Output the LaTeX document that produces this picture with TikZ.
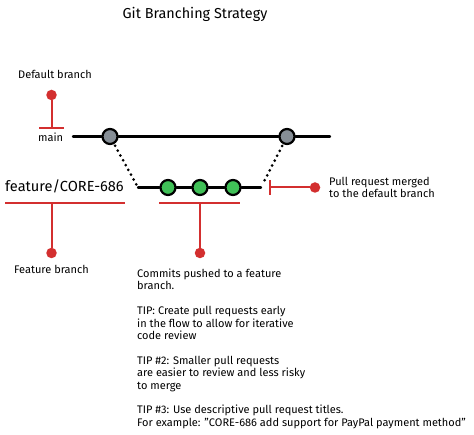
\documentclass[tikz,border=0pt]{standalone}
\usepackage{fontspec}
\setmainfont{Fira Sans}
\usetikzlibrary{backgrounds}
\definecolor{redc}{HTML}{D32F2F}
\definecolor{grayc}{HTML}{868E96}
\definecolor{greenc}{HTML}{40C057}
\begin{document}
\begin{tikzpicture}[x=1pt,y=-1pt,
  commit/.style={circle,draw=black,line width=2.2pt,minimum size=15pt,inner sep=0pt},
  maincommit/.style={commit,fill=grayc},
  featcommit/.style={commit,fill=greenc},
  reddot/.style={circle,fill=redc,minimum size=10.5pt,inner sep=0pt},
  redline/.style={draw=redc,line width=2pt},
  branchline/.style={draw=black,line width=2.4pt,line cap=round},
  dotline/.style={draw=black,line width=3pt,line cap=round,dash pattern=on 0pt off 5.5pt},
  lbl/.style={font=\fontsize{11}{13}\selectfont,inner sep=0pt,anchor=base west},
]
\useasboundingbox (0,0) rectangle (474,435);

% title
\node[font=\fontsize{14.4}{16}\selectfont,inner sep=0pt] (title) at (195,14) {Git Branching Strategy};

% main branch
\coordinate (mainL) at (73,136.5);
\coordinate (mainR) at (330,136.5);
\node[maincommit] (c1) at (110,136.5) {};
\node[maincommit] (c2) at (287,136.5) {};

% feature branch
\coordinate (fL) at (138,187.5);
\coordinate (fR) at (261,187.5);
\node[featcommit] (g1) at (168,187.5) {};
\node[featcommit] (g2) at (200,187.5) {};
\node[featcommit] (g3) at (233,187.5) {};

\begin{pgfonlayer}{background}
\fill[white] (0,0) rectangle (474,435);
\draw[branchline] (mainL) -- (c1) -- (c2) -- (mainR);
\draw[branchline] (fL) -- (g1) -- (g2) -- (g3) -- (fR);
\draw[dotline,shorten <=2pt,shorten >=2pt] (c1) -- (fL);
\draw[dotline,shorten <=2pt,shorten >=3pt] (c2) -- (fR);
\end{pgfonlayer}

% default branch annotation
\node[lbl] (deflbl) at (18,79) {Default branch};
\node[reddot] (d1) at (51.5,95) {};
\coordinate (d1bar) at (51.5,128);
\coordinate (d1barL) at (39,128);
\coordinate (d1barR) at (64,128);
\draw[redline] (d1) -- (d1bar);
\draw[redline] (d1barL) -- (d1barR);
\node[lbl] (mainlbl) at (38,142) {main};

% feature branch label
\node[font=\fontsize{14.6}{18}\selectfont,inner sep=0pt,anchor=base west] (featlbl) at (5,191.5) {feature/CORE-686};
\coordinate (fuL) at (5,203);
\coordinate (fuR) at (125,203);
\coordinate (fuM) at (51.5,203);
\draw[redline] (fuL) -- (fuR);
\node[reddot] (d2) at (51.5,253) {};
\draw[redline] (fuM) -- (d2);
\node[lbl] (fblbl) at (14,274) {Feature branch};

% commits annotation
\coordinate (cuL) at (159,203);
\coordinate (cuR) at (240,203);
\coordinate (cuM) at (200,203);
\draw[redline] (cuL) -- (cuR);
\node[reddot] (d3) at (200,253) {};
\draw[redline] (cuM) -- (d3);

% pull request annotation
\node[reddot] (d4) at (315,187.5) {};
\coordinate (prM) at (270,187.5);
\coordinate (prT) at (270,180);
\coordinate (prB) at (270,195);
\draw[redline] (d4) -- (prM);
\draw[redline] (prT) -- (prB);
\node[lbl] (pr1) at (329,186) {Pull request merged};
\node[lbl] (pr2) at (329,198) {to the default branch};

% text block
\foreach \i/\yy/\t in {
  1/277.5/{Commits pushed to a feature},
  2/289.9/{branch.},
  3/314.7/{TIP: Create pull requests early},
  4/327.1/{in the flow to allow for iterative},
  5/339.5/{code review},
  6/364.3/{TIP \#2: Smaller pull requests},
  7/376.7/{are easier to review and less risky},
  8/389.1/{to merge},
  9/413.9/{TIP \#3: Use descriptive pull request titles.},
  10/426.3/{For example: "CORE-686 add support for PayPal payment method"}
}{
  \node[lbl] (tip\i) at (137,\yy) {\t};
}
\end{tikzpicture}
\end{document}
